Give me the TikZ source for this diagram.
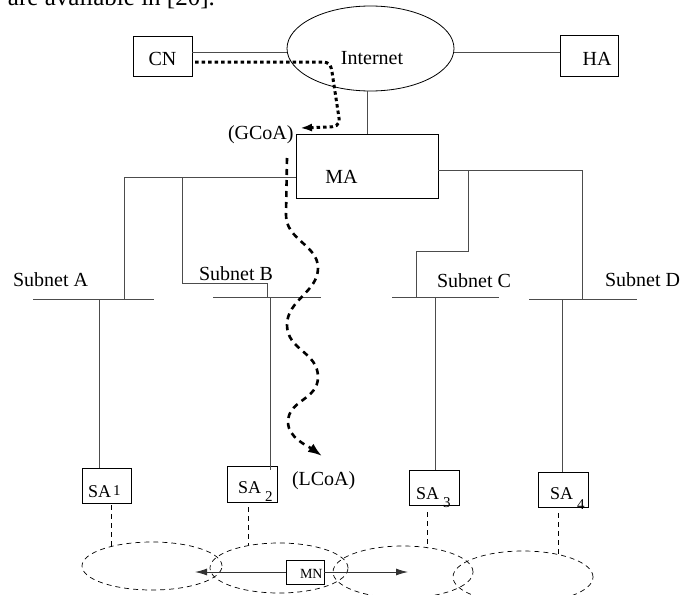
\documentclass[tikz,border=0pt]{standalone}
\usepackage{fontspec}
\setmainfont{Liberation Serif}
\usetikzlibrary{arrows.meta,shapes.geometric}
\begin{document}
\begin{tikzpicture}[x=1pt,y=-1pt,
  every node/.style={inner sep=0pt,outer sep=0pt},
  boxnode/.style={draw=black,line width=0.8pt},
  netline/.style={draw=black!70,line width=0.9pt},
  lbl/.style={font=\fontsize{20}{24}\selectfont},
  salbl/.style={font=\fontsize{18}{20}\selectfont,anchor=base west},
  idx/.style={font=\fontsize{15}{16}\selectfont,anchor=base west},
  cover/.style={ellipse,draw=black,line width=0.7pt,dash pattern=on 5pt off 4pt},
  sadash/.style={draw=black,line width=0.8pt,dash pattern=on 5pt off 4pt},
  gdot/.style={draw=black,line width=3pt,dash pattern=on 3.5pt off 3pt},
  ldash/.style={draw=black,line width=2.6pt,dash pattern=on 6pt off 5pt},
  tip/.style={-{Latex[length=#1]}}]
\useasboundingbox (0,0) rectangle (700,594);

% partial page text at the top
\node[font=\fontsize{25}{30}\selectfont,anchor=base west] (toptext) at (8,6) {are available in [20].};

% top row
\node[boxnode,minimum width=59pt,minimum height=40pt] (cn) at (162.5,56) {};
\node[lbl] (cntxt) at (162.5,58.5) {CN};
\node[ellipse,draw=black,line width=0.8pt,minimum width=167pt,minimum height=85pt] (inet) at (370.5,48.5) {};
\node[lbl] (inettxt) at (372,58.5) {Internet};
\node[boxnode,minimum width=58pt,minimum height=41pt] (ha) at (589,55.5) {};
\node[lbl] (hatxt) at (597,58.5) {HA};
\node[boxnode,minimum width=142pt,minimum height=64pt] (ma) at (367,166) {};
\node[lbl] (matxt) at (341.5,177) {MA};

\draw[netline] ([yshift=4pt]cn.east) -- ([yshift=4pt]cn.east -| inet.west);
\draw[netline] ([yshift=3.5pt]ha.west) -- ([yshift=3.5pt]ha.west -| inet.east);
\draw[netline] (ma.north) -- (ma.north |- inet.south);

% subnet bars
\coordinate (a1) at (33,299);  \coordinate (a2) at (154,299);
\coordinate (b1) at (213,297); \coordinate (b2) at (321,297);
\coordinate (c1) at (392,297); \coordinate (c2) at (499,297);
\coordinate (d1) at (529,299); \coordinate (d2) at (637,299);
\draw[netline] (a1) -- (a2);
\draw[netline] (b1) -- (b2);
\draw[netline] (c1) -- (c2);
\draw[netline] (d1) -- (d2);

\node[lbl,anchor=base west] (suba) at (13,286) {Subnet A};
\node[lbl,anchor=base west] (subb) at (199,280) {Subnet B};
\node[lbl,anchor=base west] (subc) at (437,287) {Subnet C};
\node[lbl,anchor=base west] (subd) at (605,286) {Subnet D};

% MA to subnets
\coordinate (aj) at (124,299);
\draw[netline] ([yshift=-11pt]ma.west) -| (aj);
\coordinate (bs) at (182,177); \coordinate (bk) at (182,283); \coordinate (bj) at (267,297);
\draw[netline] (bs) -- (bk) -| (bj);
\coordinate (dj) at (582,299);
\draw[netline] ([yshift=-4pt]ma.east) -| (dj);
\coordinate (cs) at (468,170); \coordinate (ck) at (468,251); \coordinate (cj) at (416,297);
\draw[netline] (cs) -- (ck) -| (cj);

% subnet agents
\node[boxnode,minimum width=49pt,minimum height=35pt] (sa1) at (106.5,485.5) {};
\node[boxnode,minimum width=50pt,minimum height=36pt] (sa2) at (252,484) {};
\node[boxnode,minimum width=50pt,minimum height=35pt] (sa3) at (434,487.5) {};
\node[boxnode,minimum width=50pt,minimum height=35pt] (sa4) at (563,489.5) {};
\node[salbl] (sa1t) at (88,497) {SA};  \node[idx] (sa1i) at (113,495) {1};
\node[salbl] (sa2t) at (238,493) {SA}; \node[idx] (sa2i) at (265,501) {2};
\node[salbl] (sa3t) at (416,499) {SA}; \node[idx] (sa3i) at (443,507) {3};
\node[salbl] (sa4t) at (550,499) {SA}; \node[idx] (sa4i) at (577,509) {4};

\coordinate (a3) at (99,299);  \draw[netline] (a3) -- (a3 |- sa1.north);
\coordinate (b3) at (270,297); \draw[netline] (b3) -- ([yshift=-4pt]b3 |- sa2.north);
\coordinate (c3) at (435,297); \draw[netline] (c3) -- (c3 |- sa3.north);
\coordinate (d3) at (562,299); \draw[netline] (d3) -- (d3 |- sa4.north);

% coverage areas
\node[cover,minimum width=140pt,minimum height=48pt] (e1) at (152,566) {};
\node[cover,minimum width=138pt,minimum height=50pt] (e2) at (279,568) {};
\node[cover,minimum width=140pt,minimum height=52pt] (e3) at (403,572) {};
\node[cover,minimum width=140pt,minimum height=52pt] (e4) at (523,577) {};

\coordinate (e1t) at (111,546);
\coordinate (e2t) at (248,545);
\coordinate (e3t) at (427,548);
\coordinate (e4t) at (558,554);
\draw[sadash] ([xshift=4.5pt,yshift=-2pt]sa1.south) -- (e1t);
\draw[sadash] ([xshift=-4pt,yshift=-5pt]sa2.south) -- (e2t);
\draw[sadash] ([xshift=-7pt,yshift=-7pt]sa3.south) -- (e3t);
\draw[sadash] ([xshift=-5pt,yshift=-6pt]sa4.south) -- (e4t);

% mobile node
\node[boxnode,minimum width=38pt,minimum height=24pt] (mn) at (305,572) {};
\node[font=\fontsize{14}{16}\selectfont,anchor=base west] (mnt) at (300,578) {MN};
\coordinate (mnl) at (195,572); \coordinate (mnr) at (408,572);
\draw[netline,draw=black!80,-{Latex[length=12pt,width=7pt]}] (mn.west) -- (mnl);
\draw[netline,draw=black!80,-{Latex[length=12pt,width=7pt]}] (mn.east) -- (mnr);

% GCoA path
\node[lbl,anchor=base west] (gcoa) at (228,139.5) {(GCoA)};
\coordinate (gtip) at (300,128);
\draw[gdot,-{Latex[length=12pt,width=8pt]}] ([xshift=3pt,yshift=-6pt]cn.east) -- (322,62)
  .. controls (330,62) and (331,66) .. (332,72) -- (339,118)
  .. controls (340,126) and (335,127) .. (327,127) -- (gtip);

% LCoA path
\node[lbl,anchor=base west] (lcoa) at (292,485) {(LCoA)};
\coordinate (lstart) at (287,158); \coordinate (ltip) at (322,456);
\draw[ldash,-{Latex[length=14pt,width=10pt]}] (lstart) -- (286,215)
  .. controls (286,240) and (318,245) .. (318,268)
  .. controls (318,292) and (287,300) .. (287,325)
  .. controls (287,350) and (318,352) .. (318,377)
  .. controls (318,400) and (288,400) .. (288,422)
  .. controls (288,438) and (308,446) .. (ltip);
\end{tikzpicture}
\end{document}
